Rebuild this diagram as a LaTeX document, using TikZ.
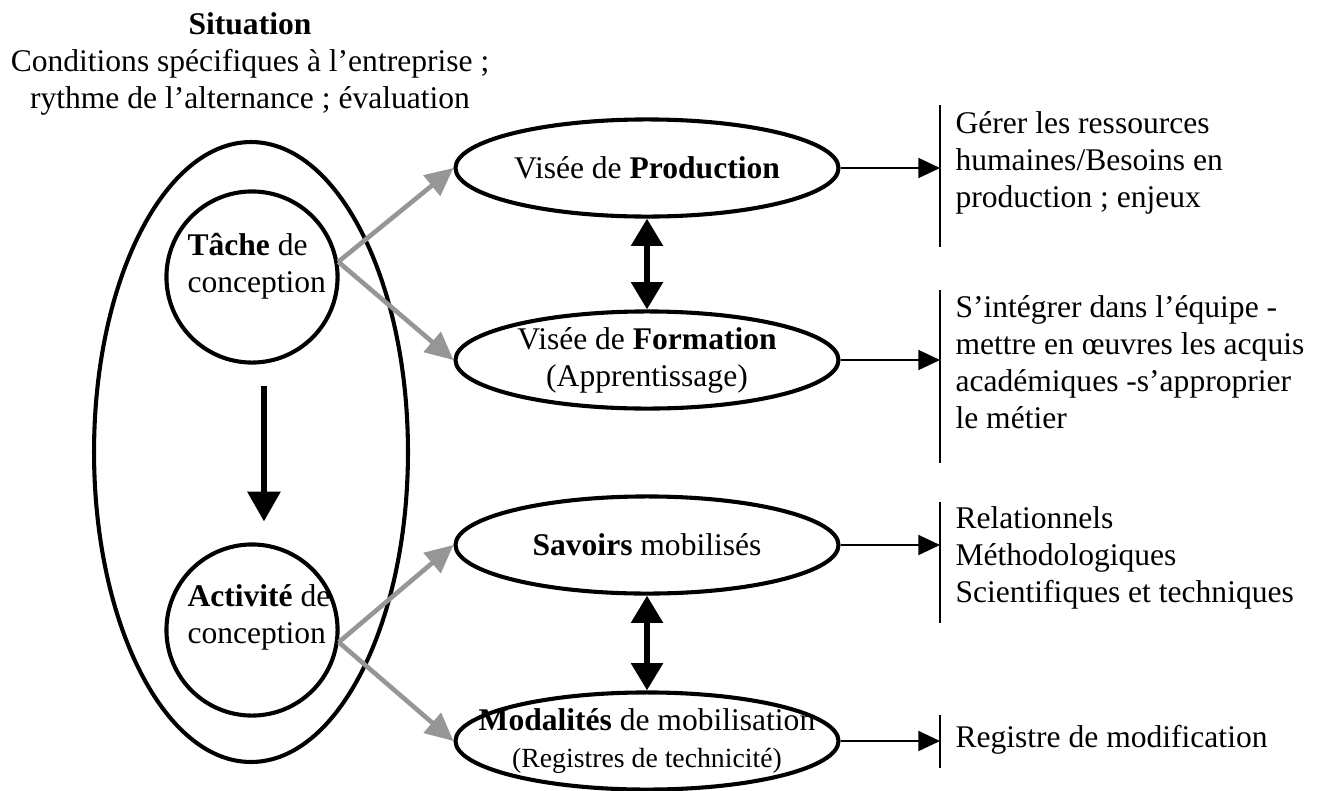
\documentclass[tikz,border=0pt]{standalone}
\usepackage{fontspec}
\setmainfont{Liberation Serif}
\usetikzlibrary{arrows.meta,shapes.geometric}
\definecolor{arrowgray}{RGB}{150,150,150}

\begin{document}
\begin{tikzpicture}[x=0.3676pt,y=-0.3676pt,
  every node/.style={font=\fontsize{11.6}{13.6}\selectfont},
  big node/.style={ellipse,draw,line width=1.5pt,minimum width=115.4pt,minimum height=227.9pt,inner sep=0pt},
  main node/.style={circle,draw,line width=1.5pt,minimum size=62.9pt,inner sep=0pt},
  aim node/.style={ellipse,draw,line width=1.5pt,minimum width=140.8pt,minimum height=35.7pt,inner sep=0pt},
  aim text/.style={align=center,inner sep=0pt},
  list node/.style={anchor=base west,align=left,inner sep=0pt},
  grey arrow/.style={color=arrowgray,line width=1.7pt,-{Triangle[width=9.5pt,length=10.3pt]}},
  thick arrow/.style={line width=2.2pt,-{Triangle[width=11.8pt,length=11pt]}},
  both arrow/.style={line width=2.2pt,{Triangle[width=11.3pt,length=10pt]}-{Triangle[width=11.3pt,length=10pt]}},
  thin arrow/.style={line width=0.6pt,-{Triangle[width=7.4pt,length=8pt]}},
  bar/.style={line width=0.75pt}]
  \useasboundingbox (0,0) rectangle (1319,790);

  \node[align=center,anchor=base,inner sep=0pt] (sit) at (250,108) {\textbf{Situation}\\Conditions spécifiques à l’entreprise ;\\rythme de l’alternance ; évaluation};

  \node[big node] (cadre) at (251,452) {};
  \node[main node] (tache) at (252,277) {};
  \node[list node] (tachetxt) at (187,292) {\textbf{Tâche} de\\conception};
  \node[main node] (activite) at (252,630) {};
  \node[list node] (activtxt) at (187,643) {\textbf{Activité} de\\conception};

  \node[aim node] (prod) at (647,168) {};
  \node[aim text] (prodtxt) at (prod) {Visée de \textbf{Production}};
  \node[aim node] (form) at (647,360) {};
  \node[aim text] (formtxt) at (form) {Visée de \textbf{Formation}\\(Apprentissage)};
  \node[aim node] (savoirs) at (647,545) {};
  \node[aim text] (savtxt) at (savoirs) {\textbf{Savoirs} mobilisés};
  \node[aim node] (modal) at (647,741) {};
  \node[aim text] (modtxt) at (modal) {\textbf{Modalités} de mobilisation\\{\fontsize{10.2}{12}\selectfont(Registres de technicité)}};

  \coordinate (b1) at (940,105); \coordinate (b1e) at (940,247);
  \coordinate (b2) at (940,290); \coordinate (b2e) at (940,463);
  \coordinate (b3) at (940,502); \coordinate (b3e) at (940,623);
  \coordinate (b4) at (940,715); \coordinate (b4e) at (940,768);
  \node[list node] (prodlist) at (955,207) {Gérer les ressources\\humaines/Besoins en\\production ; enjeux};
  \node[list node] (formlist) at (955,428) {S’intégrer dans l’équipe -\\mettre en œuvres les acquis\\académiques -s’approprier\\le métier};
  \node[list node] (savlist) at (955,602) {Relationnels\\Méthodologiques\\Scientifiques et techniques};
  \node[list node] (modlist) at (955,747) {Registre de modification};

  \draw[thick arrow,shorten <=7.7pt,shorten >=7.7pt] ([xshift=4.4pt]tache.south) -- ([xshift=4.4pt]activite.north);

  \path[grey arrow]
    (tache.10) edge (prod.west)
    (tache.10) edge (form.west)
    (activite.-8) edge (savoirs.west)
    (activite.-8) edge (modal.west);

  \path[both arrow]
    (prod) edge (form)
    (savoirs) edge (modal);

  \path[thin arrow]
    (prod.east) edge (prod.east -| b1)
    (form.east) edge (form.east -| b2)
    (savoirs.east) edge (savoirs.east -| b3)
    (modal.east) edge (modal.east -| b4);

  \draw[bar] (b1) -- (b1e) (b2) -- (b2e) (b3) -- (b3e) (b4) -- (b4e);
\end{tikzpicture}
\end{document}
